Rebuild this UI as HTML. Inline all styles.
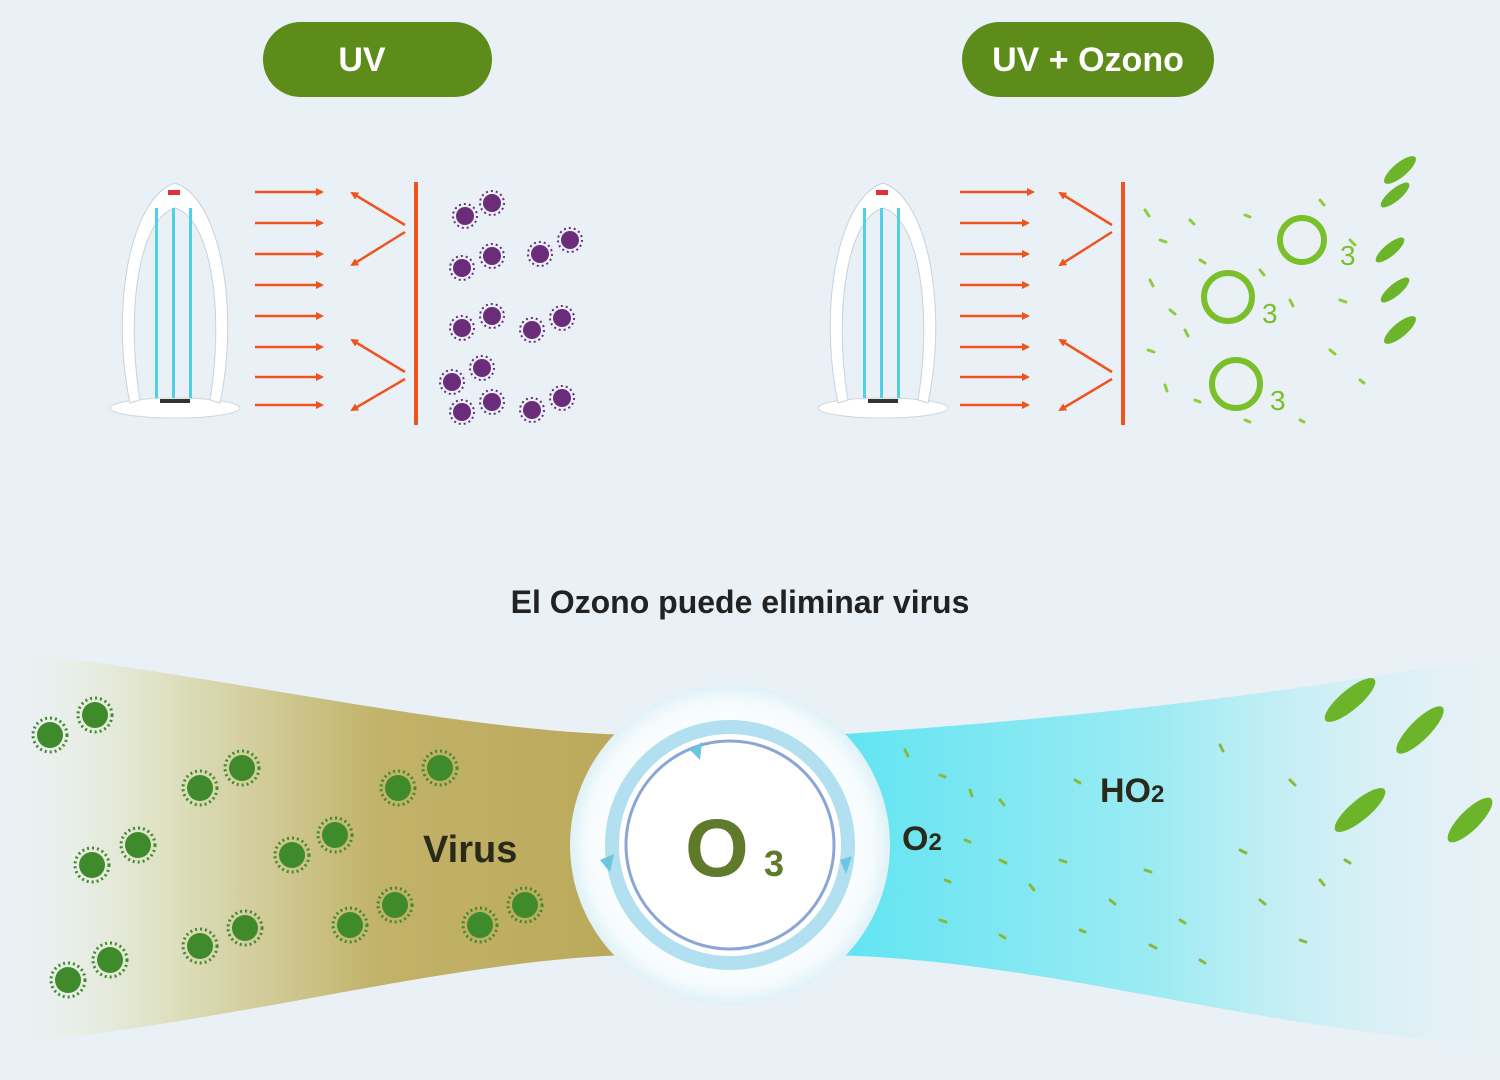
<!DOCTYPE html>
<html><head><meta charset="utf-8">
<style>
html,body{margin:0;padding:0;background:#e9f1f6;}
svg{display:block;font-family:"Liberation Sans","DejaVu Sans",sans-serif;}
</style></head>
<body>
<svg width="1500" height="1080" viewBox="0 0 1500 1080" xmlns="http://www.w3.org/2000/svg">
<defs>
  <marker id="ah" markerWidth="8" markerHeight="8" refX="6" refY="4" orient="auto" markerUnits="userSpaceOnUse">
    <path d="M0,0 L8,4 L0,8 z" fill="#f0541e"/>
  </marker>
  <linearGradient id="lg" x1="0" x2="1" y1="0" y2="0">
    <stop offset="0" stop-color="#eef3f2" stop-opacity="0.2"/>
    <stop offset="0.25" stop-color="#dfe2c4"/>
    <stop offset="0.6" stop-color="#c2b36a"/>
    <stop offset="1" stop-color="#bba85a"/>
  </linearGradient>
  <linearGradient id="rg" x1="0" x2="1" y1="0" y2="0">
    <stop offset="0" stop-color="#5fe4f2"/>
    <stop offset="0.5" stop-color="#9eebf3"/>
    <stop offset="1" stop-color="#e6f2f6" stop-opacity="0.3"/>
  </linearGradient>
  <radialGradient id="cg" cx="0.5" cy="0.5" r="0.5">
    <stop offset="0.7" stop-color="#ffffff"/>
    <stop offset="0.9" stop-color="#f4fbfd"/>
    <stop offset="1" stop-color="#dff1f7"/>
  </radialGradient>
  <g id="lamp">
    <ellipse cx="65" cy="230" rx="65" ry="10" fill="#fff" stroke="#cfd6dc"/>
    <path d="M20,225 C0,130 20,20 65,5 C110,20 130,130 110,225 L100,222 C115,130 100,40 65,30 C30,40 15,130 30,222 Z" fill="#fff" stroke="#c9d2da"/>
    <rect x="45" y="30" width="3" height="190" fill="#4fd0e8"/>
    <rect x="62" y="30" width="3" height="190" fill="#4fd0e8"/>
    <rect x="79" y="30" width="3" height="190" fill="#4fd0e8"/>
    <rect x="58" y="12" width="12" height="5" fill="#d33"/>
    <rect x="50" y="221" width="30" height="4" fill="#333"/>
  </g>
  <g id="vp">
    <circle r="9" fill="#6b2d7a"/>
    <circle r="12" fill="none" stroke="#6b2d7a" stroke-width="2" stroke-dasharray="2 3"/>
  </g>
  <g id="vg">
    <circle r="13" fill="#3f8a2a"/>
    <circle r="17" fill="none" stroke="#3f8a2a" stroke-width="3" stroke-dasharray="2 3"/>
  </g>
</defs>

<!-- pills -->
<rect x="263" y="22" width="229" height="75" rx="37.5" fill="#5d8c1b"/>
<text x="362" y="71" font-size="34" font-weight="bold" fill="#fff" text-anchor="middle">UV</text>
<rect x="962" y="22" width="252" height="75" rx="37.5" fill="#5d8c1b"/>
<text x="1088" y="71" font-size="34" font-weight="bold" fill="#fff" text-anchor="middle">UV + Ozono</text>

<!-- left panel -->
<use href="#lamp" x="110" y="178"/>
<g stroke="#f0541e" stroke-width="2.5" marker-end="url(#ah)">
  <line x1="255" y1="192" x2="322" y2="192"/><line x1="255" y1="223" x2="322" y2="223"/>
  <line x1="255" y1="254" x2="322" y2="254"/><line x1="255" y1="285" x2="322" y2="285"/>
  <line x1="255" y1="316" x2="322" y2="316"/><line x1="255" y1="347" x2="322" y2="347"/>
  <line x1="255" y1="377" x2="322" y2="377"/><line x1="255" y1="405" x2="322" y2="405"/>
  <line x1="405" y1="225" x2="352" y2="193"/><line x1="405" y1="232" x2="352" y2="265"/>
  <line x1="405" y1="372" x2="352" y2="340"/><line x1="405" y1="379" x2="352" y2="410"/>
  <line x1="955" y1="192" x2="1028" y2="192" transform="translate(5,0)"/>
</g>
<line x1="416" y1="182" x2="416" y2="425" stroke="#f0541e" stroke-width="4"/>
<g>
  <use href="#vp" x="492" y="203"/><use href="#vp" x="465" y="216"/>
  <use href="#vp" x="492" y="256"/><use href="#vp" x="462" y="268"/><use href="#vp" x="540" y="254"/><use href="#vp" x="570" y="240"/>
  <use href="#vp" x="492" y="316"/><use href="#vp" x="462" y="328"/><use href="#vp" x="532" y="330"/><use href="#vp" x="562" y="318"/>
  <use href="#vp" x="482" y="368"/><use href="#vp" x="452" y="382"/><use href="#vp" x="492" y="402"/><use href="#vp" x="462" y="412"/><use href="#vp" x="532" y="410"/><use href="#vp" x="562" y="398"/>
</g>

<!-- right panel -->
<use href="#lamp" x="818" y="178"/>
<g stroke="#f0541e" stroke-width="2.5" marker-end="url(#ah)">
  <line x1="960" y1="223" x2="1028" y2="223"/>
  <line x1="960" y1="254" x2="1028" y2="254"/><line x1="960" y1="285" x2="1028" y2="285"/>
  <line x1="960" y1="316" x2="1028" y2="316"/><line x1="960" y1="347" x2="1028" y2="347"/>
  <line x1="960" y1="377" x2="1028" y2="377"/><line x1="960" y1="405" x2="1028" y2="405"/>
  <line x1="1112" y1="225" x2="1060" y2="193"/><line x1="1112" y1="232" x2="1060" y2="265"/>
  <line x1="1112" y1="372" x2="1060" y2="340"/><line x1="1112" y1="379" x2="1060" y2="410"/>
</g>
<line x1="1123" y1="182" x2="1123" y2="425" stroke="#f0541e" stroke-width="4"/>
<g fill="none" stroke="#7bbf2a" stroke-width="6">
  <circle cx="1302" cy="240" r="22"/><circle cx="1228" cy="297" r="24"/><circle cx="1236" cy="384" r="24"/>
</g>
<g fill="#7bbf2a" font-size="28">
  <text x="1340" y="265">3</text><text x="1262" y="323">3</text><text x="1270" y="410">3</text>
</g>
<g stroke="#8fcc3a" stroke-width="3" stroke-linecap="round">
  <path d="M1145,210 l4,6 M1160,240 l6,2 M1150,280 l3,6 M1170,310 l5,4 M1148,350 l6,2 M1165,385 l2,6 M1190,220 l4,4 M1200,260 l5,3 M1185,330 l3,6 M1195,400 l5,2 M1245,215 l5,2 M1260,270 l4,5 M1290,300 l3,6 M1320,200 l4,5 M1340,300 l6,2 M1330,350 l5,4 M1360,380 l4,3 M1350,240 l5,5 M1300,420 l4,2 M1245,420 l5,2"/>
</g>
<g fill="#6cb52a">
  <ellipse cx="1400" cy="170" rx="20" ry="7" transform="rotate(-40 1400 170)"/>
  <ellipse cx="1395" cy="195" rx="18" ry="6" transform="rotate(-40 1395 195)"/>
  <ellipse cx="1390" cy="250" rx="18" ry="6" transform="rotate(-40 1390 250)"/>
  <ellipse cx="1395" cy="290" rx="18" ry="6" transform="rotate(-40 1395 290)"/>
  <ellipse cx="1400" cy="330" rx="20" ry="7" transform="rotate(-40 1400 330)"/>
</g>

<!-- title -->
<text x="740" y="613" font-size="32" font-weight="bold" fill="#222" text-anchor="middle">El Ozono puede eliminar virus</text>

<!-- band -->
<path d="M0,650 C250,680 450,730 630,735 L630,955 C450,960 250,1020 0,1045 Z" fill="url(#lg)"/>
<path d="M830,735 C1050,720 1250,700 1500,655 L1500,1045 C1250,1030 1050,960 830,955 Z" fill="url(#rg)"/>

<!-- viruses green -->
<g>
  <use href="#vg" x="95" y="715"/><use href="#vg" x="50" y="735"/>
  <use href="#vg" x="242" y="768"/><use href="#vg" x="200" y="788"/>
  <use href="#vg" x="440" y="768"/><use href="#vg" x="398" y="788"/>
  <use href="#vg" x="138" y="845"/><use href="#vg" x="92" y="865"/>
  <use href="#vg" x="335" y="835"/><use href="#vg" x="292" y="855"/>
  <use href="#vg" x="245" y="928"/><use href="#vg" x="200" y="946"/>
  <use href="#vg" x="395" y="905"/><use href="#vg" x="350" y="925"/>
  <use href="#vg" x="525" y="905"/><use href="#vg" x="480" y="925"/>
  <use href="#vg" x="110" y="960"/><use href="#vg" x="68" y="980"/>
</g>
<text x="423" y="862" font-size="38" font-weight="bold" fill="#2a2a1a">Virus</text>

<!-- circle -->
<circle cx="730" cy="845" r="160" fill="url(#cg)"/>
<circle cx="730" cy="845" r="118" fill="none" stroke="#9fd8ec" stroke-width="14" opacity="0.8"/>
<circle cx="730" cy="845" r="104" fill="none" stroke="#8aa6d6" stroke-width="3"/>
<circle cx="730" cy="845" r="98" fill="#fff"/>
<path d="M690,750 l12,-8 l-2,18 z" fill="#6cc6e2"/>
<path d="M840,860 l12,-4 l-6,18 z" fill="#6cc6e2"/>
<path d="M600,860 l14,-6 l-4,18 z" fill="#6cc6e2"/>
<text x="685" y="876" font-size="82" font-weight="bold" fill="#5e7a2a">O</text>
<text x="764" y="876" font-size="36" font-weight="bold" fill="#5e7a2a">3</text>

<text x="902" y="850" font-size="34" font-weight="bold" fill="#2a2a1a">O<tspan font-size="24">2</tspan></text>
<text x="1100" y="802" font-size="34" font-weight="bold" fill="#2a2a1a">HO<tspan font-size="24">2</tspan></text>

<!-- small leaves right -->
<g stroke="#8ab83a" stroke-width="3" stroke-linecap="round">
  <path d="M905,750 l3,6 M940,775 l5,2 M970,790 l2,6 M1000,800 l4,5 M965,840 l5,2 M1000,860 l6,3 M945,880 l5,2 M1030,885 l4,5 M1060,860 l6,2 M1075,780 l5,3 M1110,900 l5,4 M1145,870 l6,2 M1180,920 l5,3 M1220,745 l3,6 M1240,850 l6,3 M1260,900 l5,4 M1300,940 l6,2 M1320,880 l4,5 M1345,860 l5,3 M940,920 l6,2 M1000,935 l5,3 M1080,930 l5,2 M1150,945 l6,3 M1200,960 l5,3 M1290,780 l5,5"/>
</g>
<g fill="#6cb52a">
  <ellipse cx="1350" cy="700" rx="32" ry="10" transform="rotate(-40 1350 700)"/>
  <ellipse cx="1420" cy="730" rx="32" ry="10" transform="rotate(-45 1420 730)"/>
  <ellipse cx="1360" cy="810" rx="32" ry="10" transform="rotate(-40 1360 810)"/>
  <ellipse cx="1470" cy="820" rx="30" ry="10" transform="rotate(-45 1470 820)"/>
</g>
</svg>
</body></html>
